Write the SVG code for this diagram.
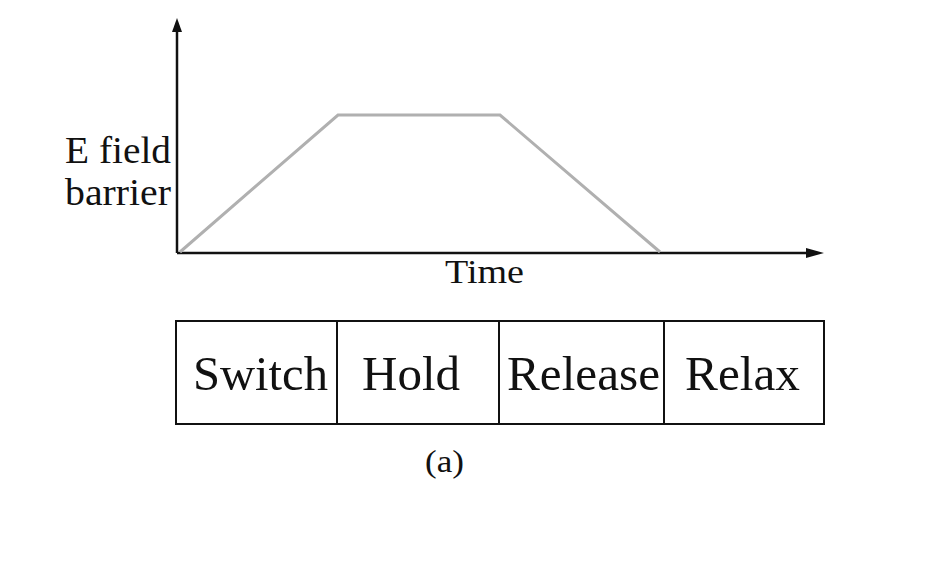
<svg xmlns="http://www.w3.org/2000/svg" width="938" height="574" viewBox="0 0 938 574">
<defs>
<style>
.ax{stroke:#111;stroke-width:2.5;fill:none}
.box{stroke:#111;stroke-width:2;fill:#fff}
</style>
</defs>
<rect width="938" height="574" fill="#fff"/>
<g id="connectors">
<line class="ax" x1="177" y1="253" x2="177" y2="28"/>
<path d="M172,32 L177,18 L182,32 Z" fill="#111"/>
<line class="ax" x1="177" y1="253" x2="810" y2="253"/>
<path d="M806,248 L824,253 L806,258 Z" fill="#111"/>
<polyline points="180,252 338,115 500,115 660,252" fill="none" stroke="#b0b0b0" stroke-width="3"/>
</g>
<g font-family="Liberation Serif" fill="#111">
<g id="ylabel">
<text x="65" y="163" font-size="37" textLength="106" lengthAdjust="spacingAndGlyphs">E field</text>
<text x="65" y="205" font-size="37" textLength="106" lengthAdjust="spacingAndGlyphs">barrier</text>
</g>
<g id="xlabel">
<text x="445" y="283" font-size="33" textLength="79" lengthAdjust="spacingAndGlyphs">Time</text>
</g>
<g id="switch">
<rect class="box" x="176" y="321" width="161" height="103"/>
<text x="193" y="390" font-size="49" textLength="135" lengthAdjust="spacingAndGlyphs">Switch</text>
</g>
<g id="hold">
<rect class="box" x="337" y="321" width="162" height="103"/>
<text x="362" y="390" font-size="49" textLength="98" lengthAdjust="spacingAndGlyphs">Hold</text>
</g>
<g id="release">
<rect class="box" x="499" y="321" width="165" height="103"/>
<text x="507" y="390" font-size="49" textLength="153" lengthAdjust="spacingAndGlyphs">Release</text>
</g>
<g id="relax">
<rect class="box" x="664" y="321" width="160" height="103"/>
<text x="685" y="390" font-size="49" textLength="115" lengthAdjust="spacingAndGlyphs">Relax</text>
</g>
<g id="caption">
<text x="425" y="472" font-size="32" textLength="39" lengthAdjust="spacingAndGlyphs">(a)</text>
</g>
</g>
</svg>
